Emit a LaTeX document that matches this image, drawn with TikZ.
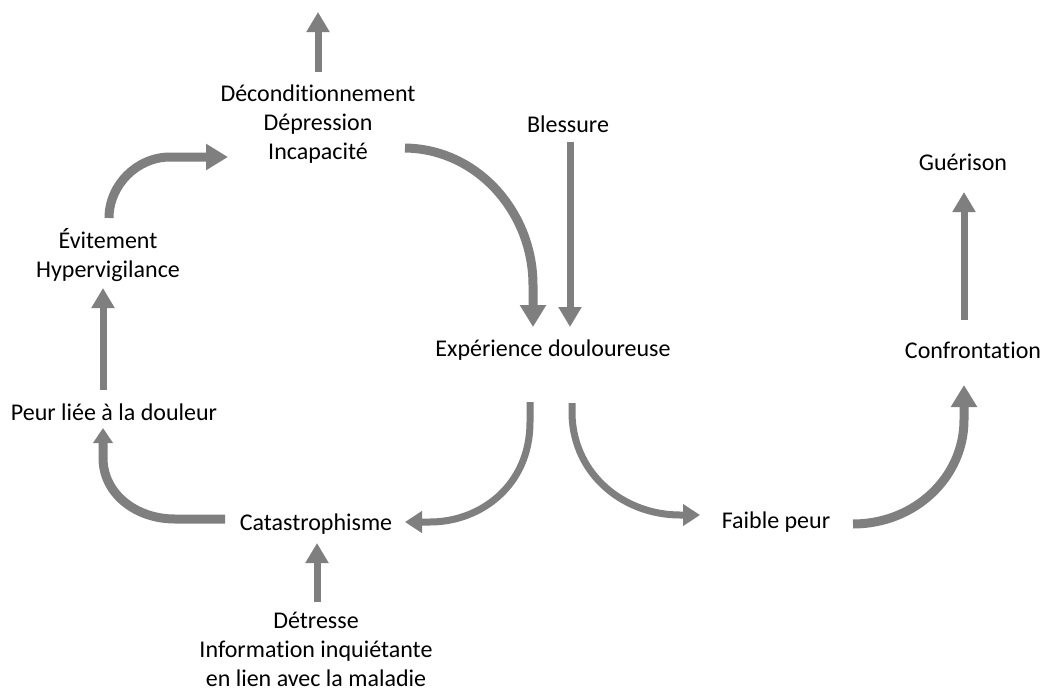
\documentclass[tikz,border=0pt]{standalone}
\usepackage{fontspec}
\setmainfont{Carlito}[Ligatures=CommonOff]
\usetikzlibrary{arrows.meta}
\definecolor{arrowgray}{RGB}{127,127,127}
\begin{document}
\begin{tikzpicture}[x=1pt,y=-1pt,
  lbl/.style={inner sep=0pt,align=center,font=\fontsize{24}{29}\selectfont},
  thin/.style={draw=arrowgray,line width=7pt,-{Triangle[width=22pt,length=20pt]}},
  thick/.style={draw=arrowgray,line width=9pt,-{Triangle[width=25pt,length=22pt]}},
  narrowhead/.style={draw=arrowgray,line width=9pt,-{Triangle[width=19pt,length=15pt]}},
  mid/.style={draw=arrowgray,line width=7pt,-{Triangle[width=21pt,length=17pt]}}]
\useasboundingbox[fill=white] (0,0) rectangle (1050,691);
% labels
\node[lbl] (dec) at (318,124) {Déconditionnement\\Dépression\\Incapacité};
\node[lbl] (bles) at (568,124) {Blessure};
\node[lbl] (guer) at (963,162) {Guérison};
\node[lbl] (evit) at (108,255) {Évitement\\Hypervigilance};
\node[lbl] (exp) at (553,350) {Expérience douloureuse};
\node[lbl] (conf) at (973,350) {Confrontation};
\node[lbl] (peur) at (114,412) {Peur liée à la douleur};
\node[lbl] (cat) at (316,524) {Catastrophisme};
\node[lbl] (faible) at (776,522) {Faible peur};
\node[lbl] (det) at (316,649) {Détresse\\Information inquiétante\\en lien avec la maladie};
% connector end points
\coordinate (k1) at (318,72);  \coordinate (k2) at (318,12);
\coordinate (a1) at (109,218); \coordinate (a2) at (228,157);
\coordinate (b1) at (405,148); \coordinate (b2) at (533,327);
\coordinate (c1) at (570,142); \coordinate (c2) at (570,327);
\coordinate (d1) at (530,402); \coordinate (d2) at (405,522);
\coordinate (e1) at (572,403); \coordinate (e2) at (700,515);
\coordinate (f1) at (853,524); \coordinate (f2) at (964,385);
\coordinate (g1) at (964,320); \coordinate (g2) at (964,192);
\coordinate (h1) at (225,519); \coordinate (h2) at (103,428);
\coordinate (i1) at (103,390); \coordinate (i2) at (103,288);
\coordinate (j1) at (317,602); \coordinate (j2) at (317,543);
% connectors
\draw[thin] (k1) -- (k2);
\draw[thick] (a1) .. controls (109,185) and (137,157) .. (170,157) -- (a2);
\draw[thick] (b1) .. controls (478,149) and (533,213) .. (533,285) -- (b2);
\draw[thin] (c1) -- (c2);
\draw[mid] (d1) -- ++(0,20) .. controls (530,486) and (480,522) .. (430,522) -- (d2);
\draw[mid] (e1) -- ++(0,12) .. controls (574,476) and (625,515) .. (680,515) -- (e2);
\draw[thick] (f1) .. controls (915,524) and (964,477) .. (964,420) -- (f2);
\draw[thin] (g1) -- (g2);
\draw[narrowhead] (h1) -- ++(-50,0) .. controls (135,519) and (103,493) .. (103,458) -- (h2);
\draw[thin] (i1) -- (i2);
\draw[thin] (j1) -- (j2);
\end{tikzpicture}
\end{document}
